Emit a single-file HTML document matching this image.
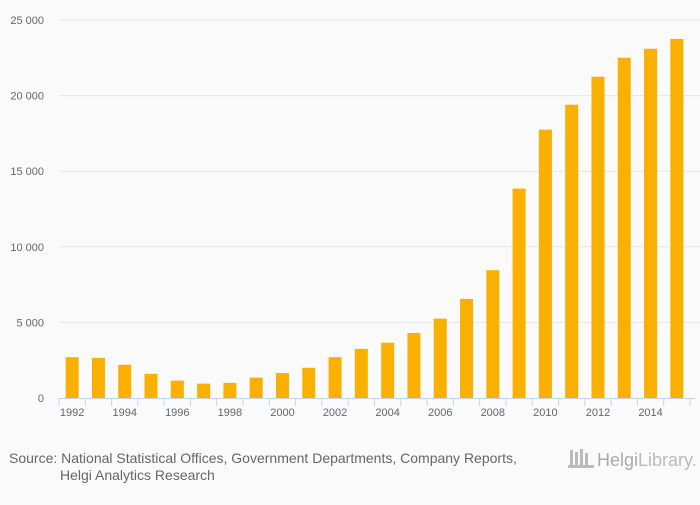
<!DOCTYPE html>
<html><head><meta charset="utf-8"><style>
body{margin:0;background:#fafafa;font-family:"Liberation Sans",sans-serif;}
svg text{font-family:"Liberation Sans",sans-serif;}
</style></head><body>
<svg id="chart" width="700" height="500" xmlns="http://www.w3.org/2000/svg">
<rect width="700" height="500" fill="#fafafa"/>
<g id="grid"></g><g id="bars"></g><g id="axis"></g>
<text x="9" y="463" font-size="14" fill="#666">Source: National Statistical Offices, Government Departments, Company Reports,</text>
<text x="60" y="480" font-size="14" fill="#666">Helgi Analytics Research</text>
<g>
<rect x="570" y="450" width="3" height="18" fill="#bbb"/><rect x="575" y="452" width="3" height="16" fill="#bbb"/><rect x="580" y="449" width="3" height="19" fill="#bbb"/><rect x="585" y="453" width="3" height="15" fill="#bbb"/><rect x="568" y="465" width="26" height="3" fill="#bbb"/>
<text x="597" y="466" font-size="18" fill="#aaa" font-family="Liberation Serif">Helgi<tspan fill="#bbb">Library.</tspan></text>
</g>
</svg>
<script>
const years=[1992,1993,1994,1995,1996,1997,1998,1999,2000,2001,2002,2003,2004,2005,2006,2007,2008,2009,2010,2011,2012,2013,2014,2015];
const values=[2700,2650,2200,1600,1150,950,1000,1350,1650,2000,2700,3250,3650,4300,5250,6550,8450,13850,17750,19400,21250,22500,23100,23750];
const yTicks=[0,5000,10000,15000,20000,25000];
const yTickLabels=["0","5 000","10 000","15 000","20 000","25 000"];
const NS="http://www.w3.org/2000/svg";
const x0=59,x1=690,y0=398,yTop=20,yMax=25000;
const step=(x1-x0)/years.length;
const ys=v=>y0-(v/yMax)*(y0-yTop);
const xc=i=>x0+step*(i+0.5);
function mk(t,a,p){const e=document.createElementNS(NS,t);for(const k in a)e.setAttribute(k,a[k]);p.appendChild(e);return e;}
const grid=document.getElementById('grid'),bars=document.getElementById('bars'),axis=document.getElementById('axis');
yTicks.forEach((v,i)=>{
 if(v>0){const l=mk('line',{x1:x0,x2:700,y1:ys(v),y2:ys(v),stroke:'#e6e6e6','stroke-width':1},grid);
 
 }
 const t=mk('text',{x:44,y:ys(v)+4,'font-size':11,fill:'#666','text-anchor':'end'},axis);
 t.textContent=yTickLabels[i];
 
 
});
values.forEach((v,i)=>{
 const r=mk('rect',{x:xc(i)-6.5,y:ys(v),width:13,height:y0-ys(v),fill:'#f9b000'},bars);
 
 
});
const ax=mk('line',{x1:x0,x2:x1+5,y1:y0+0.5,y2:y0+0.5,stroke:'#c8d3e6'},axis);


for(let i=0;i<=years.length;i++){
 const tk=mk('line',{x1:x0+step*i,x2:x0+step*i,y1:y0,y2:y0+8,stroke:'#c8d3e6'},axis);
 
 
}
years.forEach((yr,i)=>{
 if(i%2)return;
 const t=mk('text',{x:xc(i),y:y0+18,'font-size':11,fill:'#666','text-anchor':'middle'},axis);
 t.textContent=yr;
 
 
});
</script>
</body></html>
